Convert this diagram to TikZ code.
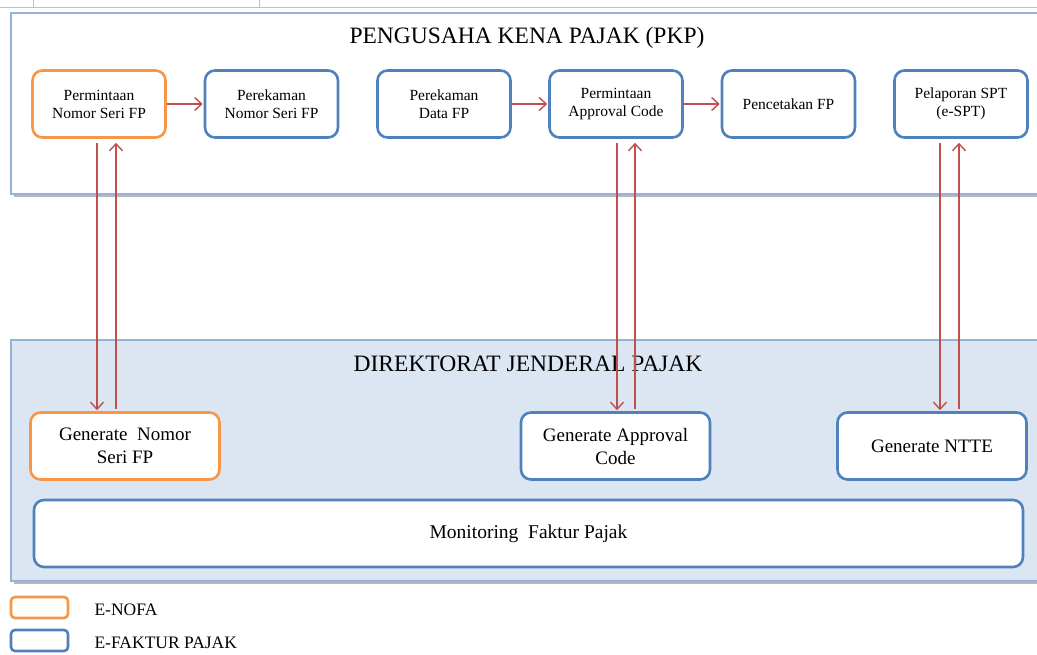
\documentclass[tikz,border=0pt]{standalone}
\usepackage{fontspec}
\setmainfont{Liberation Serif}
\usetikzlibrary{arrows.meta}
\definecolor{orn}{HTML}{F79646}
\definecolor{blu}{HTML}{4F81BD}
\definecolor{pbord}{HTML}{95B3D7}
\definecolor{pfill}{HTML}{DCE6F2}
\definecolor{arr}{HTML}{C0504D}
\begin{document}
\begin{tikzpicture}[x=1pt,y=-1pt,
  box/.style={draw=blu, line width=2.6pt, rounded corners=10pt, fill=white, align=center, inner sep=0pt},
  topbox/.style={box, minimum width=133pt, minimum height=67pt, font=\fontsize{15.5}{18}\selectfont},
  botbox/.style={box, minimum width=189pt, minimum height=67pt, font=\fontsize{19}{23}\selectfont},
  nofa/.style={draw=orn},
  panel/.style={draw=pbord, line width=1.5pt},
  shade/.style={fill=black!28, draw=none},
  flow/.style={draw=arr, line width=1.4pt, -{Straight Barb[length=7pt,width=13pt,line width=1.4pt]}},
  ttl/.style={font=\fontsize{23.5}{28}\selectfont},
  leg/.style={font=\fontsize{17.5}{20}\selectfont, anchor=west}]
\useasboundingbox (0,0) rectangle (1037,654);
% page edge artifact
\draw[black!25, line width=1pt] (0,7) -- (1037,7);
\draw[black!25, line width=0.6pt] (33,0) -- (33,7) (259,0) -- (259,7);
% panels
\fill[shade] (14,17) rectangle (1045,197);
\path[panel, fill=white] (11,13) rectangle (1045,194);
\fill[shade] (14,344) rectangle (1045,584);
\path[panel, fill=pfill] (11,340) rectangle (1045,581);
\node[ttl] (t1) at (527,38) {PENGUSAHA KENA PAJAK (PKP)};
\node[ttl] (t2) at (528,364) {DIREKTORAT JENDERAL PAJAK};
% top boxes
\node[topbox, nofa] (p1) at (99,104) {Permintaan\\Nomor Seri FP};
\node[topbox] (p2) at (271.5,104) {Perekaman\\Nomor Seri FP};
\node[topbox] (p3) at (444,104) {Perekaman\\Data FP};
\node[topbox] (p4) at (616,104) {Permintaan\\Approval Code};
\node[topbox] (p5) at (788.5,104) {Pencetakan FP};
\node[topbox] (p6) at (961,104) {Pelaporan SPT\\(e-SPT)};
% bottom boxes
\node[botbox, nofa] (g1) at (125,446) {Generate~ Nomor\\Seri FP};
\node[botbox] (g2) at (615.5,446) {Generate Approval\\Code};
\node[botbox] (g3) at (932,446) {Generate NTTE};
\node[box, minimum width=989pt, minimum height=67pt, font=\fontsize{19.5}{22}\selectfont] (mon) at (528.5,533.5) {Monitoring~ Faktur Pajak};
% horizontal flows
\draw[flow, shorten >=1pt] (p1.east) -- (p2.west);
\draw[flow, shorten >=1pt] (p3.east) -- (p4.west);
\draw[flow, shorten >=1pt] (p4.east) -- (p5.west);
% vertical flows
\coordinate (a1) at ([xshift=-2pt]p1.south);
\coordinate (b1) at ([xshift=17pt]p1.south);
\coordinate (a2) at ([xshift=1pt]p4.south);
\coordinate (b2) at ([xshift=19pt]p4.south);
\coordinate (a3) at ([xshift=-21pt]p6.south);
\coordinate (b3) at ([xshift=-2pt]p6.south);
\draw[flow, shorten <=4pt, shorten >=1pt] (a1) -- (a1 |- g1.north);
\draw[flow, shorten <=2pt, shorten >=4pt] (b1 |- g1.north) -- (b1);
\draw[flow, shorten <=4pt, shorten >=1pt] (a2) -- (a2 |- g2.north);
\draw[flow, shorten <=2pt, shorten >=4pt] (b2 |- g2.north) -- (b2);
\draw[flow, shorten <=4pt, shorten >=1pt] (a3) -- (a3 |- g3.north);
\draw[flow, shorten <=2pt, shorten >=4pt] (b3 |- g3.north) -- (b3);
% legend
\draw[orn, line width=2.6pt, rounded corners=4pt] (11,597) rectangle (68,618);
\draw[blu, line width=2.6pt, rounded corners=4pt] (11,630) rectangle (68,651);
\node[leg] (l1) at (91,610) {E-NOFA};
\node[leg] (l2) at (91,643) {E-FAKTUR PAJAK};
\end{tikzpicture}
\end{document}
